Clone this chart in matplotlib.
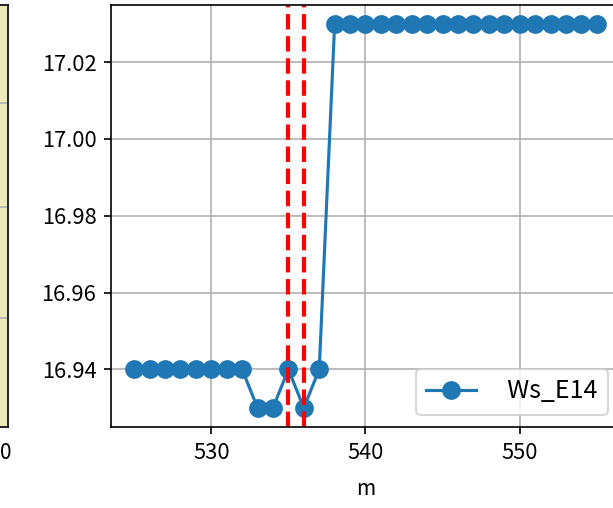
import numpy as np
import matplotlib
matplotlib.use('Agg')
import matplotlib.pyplot as plt
from matplotlib.ticker import MultipleLocator, FormatStrFormatter

plt.rcParams['font.family'] = ['Noto Sans CJK JP', 'DejaVu Sans']

# data
m = list(range(525, 556))
ws_e14 = [16.94] * 8 + [16.93, 16.93, 16.94, 16.93, 16.94] + [17.03] * 18
marks = [535, 536]

# neighbour panel (only its right edge is visible)
nb_grid = [0.258, 0.521, 0.767]
nb_tick_label = ['0']

W, H, DPI = 613, 508, 150
fig = plt.figure(figsize=(W / DPI, H / DPI), dpi=DPI)

# neighbouring subplot, cut off at the left edge
ax0 = fig.add_axes([-300 / W, 81 / H, 307.5 / W, 422.5 / H], facecolor='#EEEAB8')
ax0.set_xlim(0, 307.5)
ax0.set_ylim(0, 1)
ax0.set_xticks([306])
ax0.set_xticklabels(nb_tick_label)
ax0.tick_params(axis='x', length=0, pad=7)
ax0.set_yticks(nb_grid)
ax0.set_yticklabels([])
ax0.grid(True, axis='y')

# main subplot
ax = fig.add_axes([111 / W, 81 / H, 509 / W, 422.5 / H])
ax.plot(m, ws_e14, marker='o', markersize=8, label='  Ws_E14')
for x in marks:
    ax.axvline(x, color='red', linestyle='--', linewidth=2)
ax.set_xlabel('m', labelpad=7)
ax.xaxis.set_major_locator(MultipleLocator(10))
ax.yaxis.set_major_formatter(FormatStrFormatter('%.2f'))
ax.tick_params(labelsize=10.5)
ax.grid(True)
ax.legend(loc='lower right', fontsize=12)

plt.savefig('out.png', dpi=DPI)
